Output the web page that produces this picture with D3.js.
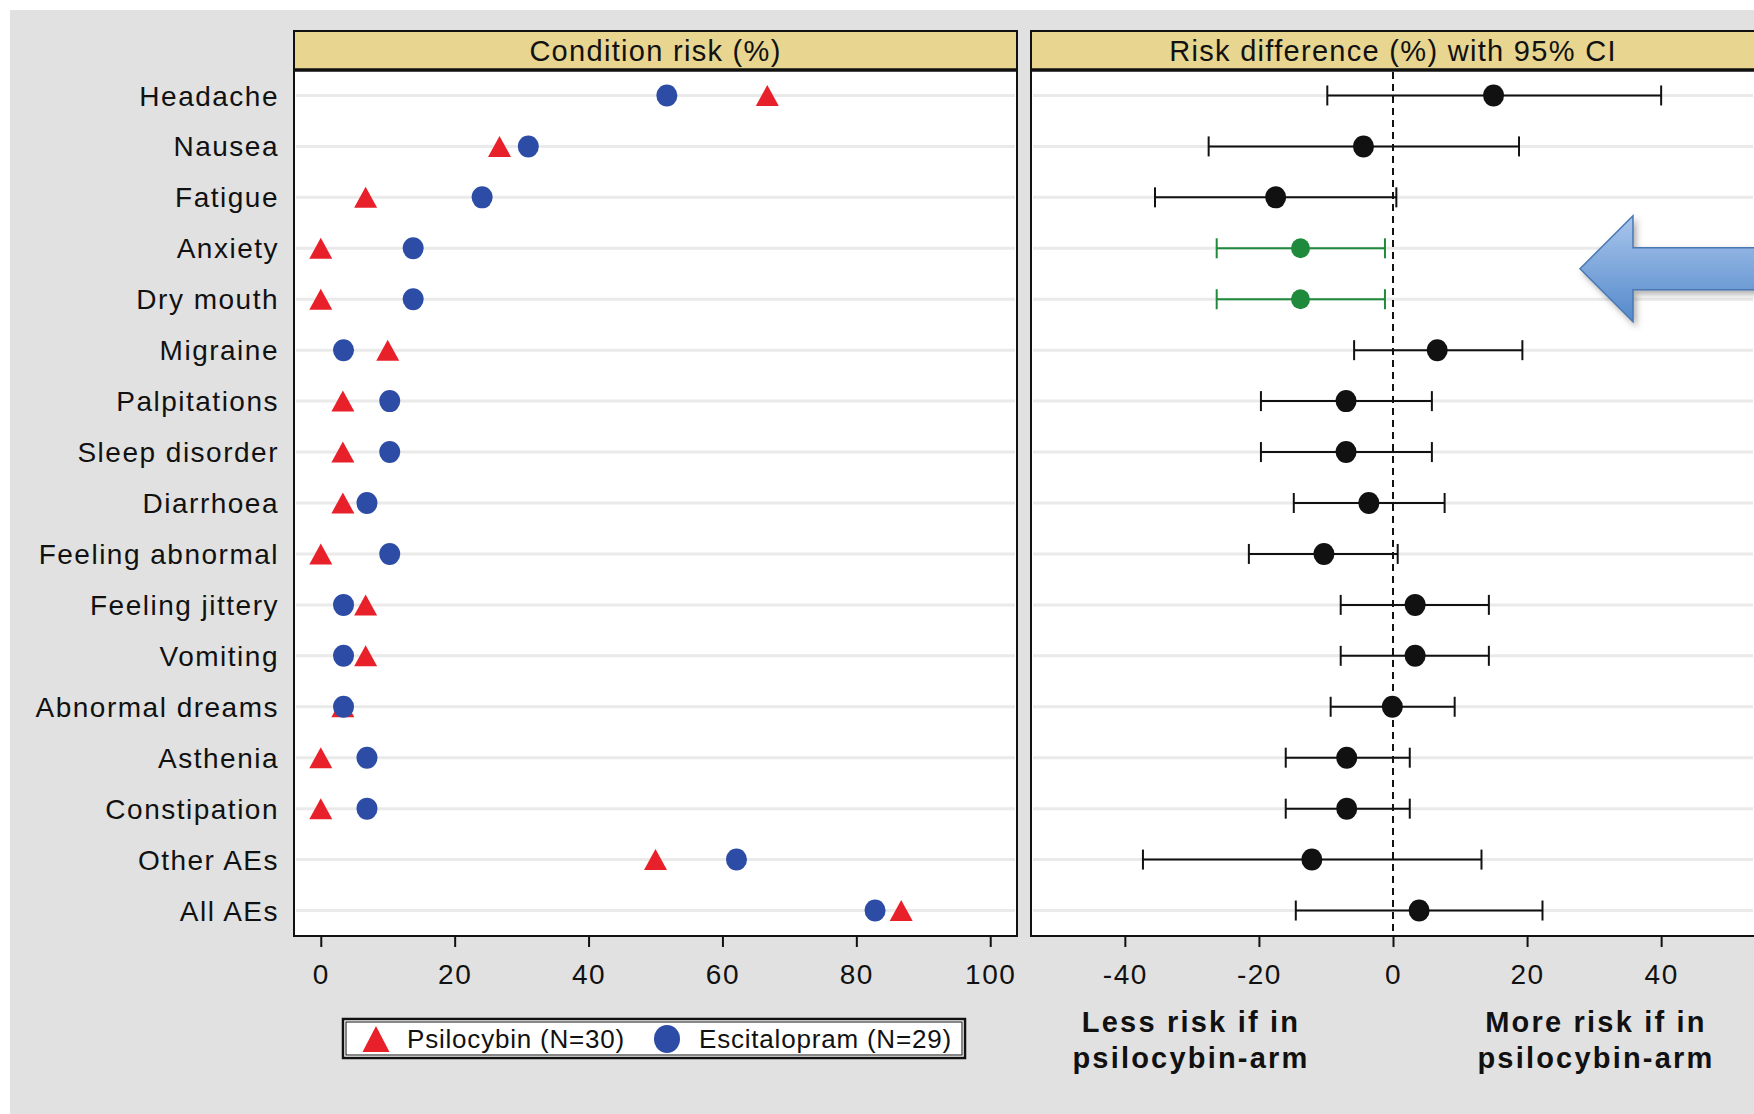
<!DOCTYPE html>
<html>
<head>
<meta charset="utf-8">
<title>Condition risk and risk difference</title>
<script src="https://cdn.jsdelivr.net/npm/d3@7"></script>
<style>
  body { margin: 0; background: #fff; }
  text { font-family: "Liberation Sans", Arial, sans-serif; fill: #111; }
</style>
</head>
<body>
<script>
// adverse events, top to bottom
var categories = ["Headache", "Nausea", "Fatigue", "Anxiety", "Dry mouth", "Migraine",
  "Palpitations", "Sleep disorder", "Diarrhoea", "Feeling abnormal", "Feeling jittery",
  "Vomiting", "Abnormal dreams", "Asthenia", "Constipation", "Other AEs", "All AEs"];

// condition risk (%) per arm
var psilocybin   = [66.7, 26.7, 6.7, 0, 0, 10.0, 3.3, 3.3, 3.3, 0, 6.7, 6.7, 3.3, 0, 0, 50.0, 86.7];
var escitalopram = [51.7, 31.0, 24.1, 13.8, 13.8, 3.4, 10.3, 10.3, 6.9, 10.3, 3.4, 3.4, 3.4, 6.9, 6.9, 62.1, 82.8];

// risk difference (%) with 95% CI
var riskDiff = [15.0, -4.4, -17.5, -13.8, -13.8, 6.6, -7.0, -7.0, -3.6, -10.3, 3.3, 3.3, -0.1, -6.9, -6.9, -12.1, 3.9];
var ciLower  = [-9.8, -27.5, -35.5, -26.3, -26.3, -5.8, -19.7, -19.7, -14.8, -21.5, -7.8, -7.8, -9.3, -16.0, -16.0, -37.3, -14.5];
var ciUpper  = [40.0, 18.8, 0.5, -1.2, -1.2, 19.3, 5.8, 5.8, 7.7, 0.7, 14.3, 14.3, 9.2, 2.5, 2.5, 13.2, 22.3];
var highlighted = ["Anxiety", "Dry mouth"];

var leftTicks = [0, 20, 40, 60, 80, 100];
var rightTicks = [-40, -20, 0, 20, 40];
var legendLabels = ["Psilocybin (N=30)", "Escitalopram (N=29)"];

var W = 1754, H = 1114;
var plotTop = 70, plotBottom = 936, headTop = 31;
var red = "#e8202a", blue = "#2c4ca6", green = "#1f8a3c";

var svg = d3.select("body").append("svg").attr("width", W).attr("height", H);

// gray page background
svg.append("rect").attr("x", 10).attr("y", 10).attr("width", W).attr("height", H)
  .attr("fill", "#e1e1e1");

var y = d3.scalePoint().domain(categories).range([plotTop, plotBottom]).padding(0.5);
var xL = d3.scaleLinear().domain([-4, 104]).range([294, 1017]);
var xR = d3.scaleLinear().domain([-54, 54]).range([1031, 1755]);

// draws one panel frame: header, white plot area, grid rows
var drawPanel = function(x, title){
  var x0 = x.range()[0], x1 = x.range()[1];
  svg.append("rect").attr("x", x0).attr("y", plotTop).attr("width", x1 - x0).attr("height", plotBottom - plotTop)
    .attr("fill", "#fff");
  svg.selectAll(null).data(categories).enter().append("line")
    .attr("x1", x0 + 2).attr("x2", x1 - 2)
    .attr("y1", function(d){ return y(d); }).attr("y2", function(d){ return y(d); })
    .attr("stroke", "#eaeaea").attr("stroke-width", 3);
  svg.append("rect").attr("x", x0).attr("y", headTop).attr("width", x1 - x0).attr("height", plotTop - headTop)
    .attr("fill", "#e7d590").attr("stroke", "#111").attr("stroke-width", 2);
  svg.append("line").attr("x1", x0).attr("x2", x1).attr("y1", plotTop).attr("y2", plotTop)
    .attr("stroke", "#111").attr("stroke-width", 3.5);
  svg.append("rect").attr("x", x0).attr("y", plotTop).attr("width", x1 - x0).attr("height", plotBottom - plotTop)
    .attr("fill", "none").attr("stroke", "#111").attr("stroke-width", 2);
  svg.append("text").attr("x", (x0 + x1) / 2).attr("y", (headTop + plotTop) / 2).attr("dy", "0.36em")
    .attr("text-anchor", "middle").style("font-size", "29px").style("letter-spacing", "1.3px").text(title);
}

var drawAxis = function(x, ticks){
  var g = svg.append("g").attr("transform", "translate(0," + plotBottom + ")")
    .call(d3.axisBottom(x).tickValues(ticks).tickSize(11).tickPadding(17).tickFormat(function(d){ return String(d); }));
  g.select(".domain").remove();
  g.selectAll(".tick line").attr("stroke", "#111").attr("stroke-width", 2);
  g.selectAll(".tick text").style("font-size", "28px").style("letter-spacing", "1.5px")
    .style("font-family", "'Liberation Sans', Arial, sans-serif").attr("fill", "#111");
}

drawPanel(xL, "Condition risk (%)");
drawPanel(xR, "Risk difference (%) with 95% CI");
drawAxis(xL, leftTicks);
drawAxis(xR, rightTicks);

// category labels
svg.selectAll(null).data(categories).enter().append("text")
  .attr("x", 279).attr("y", function(d){ return y(d); }).attr("dy", "0.36em")
  .attr("text-anchor", "end").style("font-size", "28px").style("letter-spacing", "1.5px")
  .text(function(d){ return d; });

// left panel markers
var tri = function(cx, cy, w, h){
  var p = d3.path();
  p.moveTo(cx - w / 2, cy + h / 2); p.lineTo(cx + w / 2, cy + h / 2); p.lineTo(cx, cy - h / 2); p.closePath();
  return p.toString();
}
svg.selectAll(null).data(categories).enter().append("path")
  .attr("d", function(d, i){ return tri(xL(psilocybin[i]), y(d), 23, 21); })
  .attr("fill", red);
svg.selectAll(null).data(categories).enter().append("ellipse")
  .attr("cx", function(d, i){ return xL(escitalopram[i]); }).attr("cy", function(d){ return y(d); })
  .attr("rx", 10.5).attr("ry", 11).attr("fill", blue);

// right panel: zero line, error bars, points
svg.append("line").attr("x1", xR(0)).attr("x2", xR(0)).attr("y1", plotTop + 2).attr("y2", plotBottom)
  .attr("stroke", "#111").attr("stroke-width", 2).attr("stroke-dasharray", "7,5");

var colorOf = function(d){ return highlighted.indexOf(d) >= 0 ? green : "#111"; };
var bars = svg.selectAll(null).data(categories).enter().append("g");
bars.append("line")
  .attr("x1", function(d, i){ return xR(ciLower[i]); }).attr("x2", function(d, i){ return xR(ciUpper[i]); })
  .attr("y1", function(d){ return y(d); }).attr("y2", function(d){ return y(d); })
  .attr("stroke", colorOf).attr("stroke-width", 2);
[ciLower, ciUpper].forEach(function(arr){
  bars.append("line")
    .attr("x1", function(d, i){ return xR(arr[i]); }).attr("x2", function(d, i){ return xR(arr[i]); })
    .attr("y1", function(d){ return y(d) - 10; }).attr("y2", function(d){ return y(d) + 10; })
    .attr("stroke", colorOf).attr("stroke-width", 2);
});
bars.append("ellipse")
  .attr("cx", function(d, i){ return xR(riskDiff[i]); }).attr("cy", function(d){ return y(d); })
  .attr("rx", function(d){ return highlighted.indexOf(d) >= 0 ? 9.5 : 10.5; })
  .attr("ry", function(d){ return highlighted.indexOf(d) >= 0 ? 10 : 11; })
  .attr("fill", colorOf);

// blue arrow pointing at the highlighted rows
var defs = svg.append("defs");
var grad = defs.append("linearGradient").attr("id", "arrowGrad").attr("x1", 0).attr("y1", 0).attr("x2", 0).attr("y2", 1);
grad.append("stop").attr("offset", "0%").attr("stop-color", "#a9c6ec");
grad.append("stop").attr("offset", "100%").attr("stop-color", "#5489cb");
var shadow = defs.append("filter").attr("id", "shadow").attr("x", "-20%").attr("y", "-20%").attr("width", "140%").attr("height", "140%");
shadow.append("feDropShadow").attr("dx", 3).attr("dy", 4).attr("stdDeviation", 3).attr("flood-color", "#555").attr("flood-opacity", 0.45);

var ay = (y("Anxiety") + y("Dry mouth")) / 2 - 5;
svg.append("path")
  .attr("d", "M1580," + ay + " L1633," + (ay - 53) + " L1633," + (ay - 21) + " L1770," + (ay - 21) +
    " L1770," + (ay + 21) + " L1633," + (ay + 21) + " L1633," + (ay + 53) + " Z")
  .attr("fill", "url(#arrowGrad)").attr("stroke", "#4a78b4").attr("stroke-width", 1.5)
  .attr("filter", "url(#shadow)");

// legend
var lg = svg.append("g");
lg.append("rect").attr("x", 343).attr("y", 1019).attr("width", 622).attr("height", 39)
  .attr("fill", "#fff").attr("stroke", "#111").attr("stroke-width", 2.5);
lg.append("rect").attr("x", 346).attr("y", 1022).attr("width", 616).attr("height", 33)
  .attr("fill", "none").attr("stroke", "#111").attr("stroke-width", 1);
lg.append("path").attr("d", tri(376, 1039, 27, 26)).attr("fill", red);
lg.append("text").attr("x", 407).attr("y", 1039).attr("dy", "0.36em").style("font-size", "26px")
  .style("letter-spacing", "0.8px").text(legendLabels[0]);
lg.append("ellipse").attr("cx", 667).attr("cy", 1039).attr("rx", 13).attr("ry", 14).attr("fill", blue);
lg.append("text").attr("x", 699).attr("y", 1039).attr("dy", "0.36em").style("font-size", "26px")
  .style("letter-spacing", "0.8px").text(legendLabels[1]);

// direction notes under the risk difference axis
var notes = [["Less risk if in", "psilocybin-arm", 1191], ["More risk if in", "psilocybin-arm", 1596]];
notes.forEach(function(n){
  svg.append("text").attr("x", n[2]).attr("y", 1032).attr("text-anchor", "middle")
    .style("font-size", "29px").style("font-weight", "bold").style("letter-spacing", "2.2px").text(n[0]);
  svg.append("text").attr("x", n[2]).attr("y", 1068).attr("text-anchor", "middle")
    .style("font-size", "29px").style("font-weight", "bold").style("letter-spacing", "2.2px").text(n[1]);
});
</script>
</body>
</html>
